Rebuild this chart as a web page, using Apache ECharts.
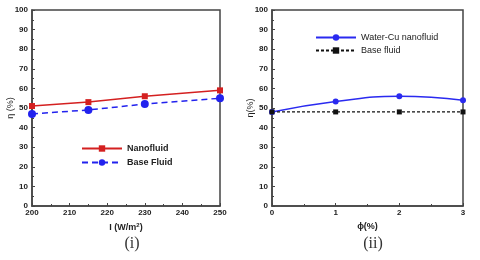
<!DOCTYPE html>
<html><head><meta charset="utf-8">
<script src="https://cdn.jsdelivr.net/npm/echarts@6/dist/echarts.min.js"></script>
<style>html,body{margin:0;padding:0;background:#fff}#c{width:480px;height:260px}</style>
</head><body><div id="c"></div>
<script>
const irradiance = [200, 215, 230, 250];
const nanofluidEff = [51, 53, 56, 59];
const baseFluidEff = [47, 49, 52, 55];
const phi = [0, 1, 2, 3];
const waterCuEff = [48, 53.3, 56, 54];
const baseFluidEff2 = [48, 48, 48, 48];
const yTicks = [0, 10, 20, 30, 40, 50, 60, 70, 80, 90, 100];

const pair = (xs, ys) => xs.map((x, i) => [x, ys[i]]);
const axisCol = '#444';
const lab = {color: '#222', fontFamily: 'Liberation Sans, Arial', fontWeight: 'bold', fontSize: 8};
function yAxis(gi) {
  return {
    type: 'value', gridIndex: gi, min: yTicks[0], max: yTicks[yTicks.length - 1], interval: 10,
    name: gi === 0 ? 'η (%)' : 'η(%)', nameLocation: 'middle', nameGap: 17, nameMoveOverlap: false,
    nameTextStyle: {color: '#222', fontFamily: 'Liberation Sans, Arial', fontSize: 9},
    axisLine: {show: true, lineStyle: {color: axisCol, width: 1.5}},
    axisTick: {show: true, inside: true, length: 3, lineStyle: {color: axisCol}},
    minorTick: {show: true, splitNumber: 2, length: 2, lineStyle: {color: axisCol}},
    splitLine: {show: false},
    axisLabel: Object.assign({margin: 4}, lab)
  };
}
function xAxis(gi, min, max, interval, name) {
  return {
    type: 'value', gridIndex: gi, min: min, max: max, interval: interval,
    name: name, nameLocation: 'middle', nameGap: 13,
    nameTextStyle: {color: '#222', fontFamily: 'Liberation Sans, Arial', fontWeight: 'bold', fontSize: 9,
      rich: {sup: {fontSize: 6, verticalAlign: 'top', fontWeight: 'bold', color: '#222', padding: [0,0,5,0]}}},
    axisLine: {show: true, lineStyle: {color: axisCol, width: 1.5}},
    axisTick: {show: true, inside: true, length: 3, lineStyle: {color: axisCol}},
    minorTick: {show: true, splitNumber: 2, length: 2, lineStyle: {color: axisCol}},
    splitLine: {show: false},
    axisLabel: Object.assign({margin: 3, showMaxLabel: true, showMinLabel: true}, lab)
  };
}
const chart = echarts.init(document.getElementById('c'), null, {renderer: 'canvas'});
chart.setOption({
  animation: false,
  backgroundColor: '#fff',
  grid: [
    {left: 32, right: 260, top: 10, bottom: 54, show: true, borderColor: axisCol, borderWidth: 1.5},
    {left: 272, right: 17, top: 10, bottom: 54, show: true, borderColor: axisCol, borderWidth: 1.5}
  ],
  xAxis: [xAxis(0, 200, 250, 10, 'I (W/m{sup|2})'), xAxis(1, 0, 3, 1, 'ϕ(%)')],
  yAxis: [yAxis(0), yAxis(1)],
  legend: [
    {left: 76, top: 139, orient: 'vertical', itemWidth: 40, itemHeight: 8, itemGap: 5,
     textStyle: {color: '#222', fontFamily: 'Liberation Sans, Arial', fontWeight: 'bold', fontSize: 9},
     data: ['Nanofluid', 'Base Fluid']},
    {left: 310, top: 28, orient: 'vertical', itemWidth: 40, itemHeight: 8, itemGap: 4,
     textStyle: {color: '#222', fontFamily: 'Liberation Sans, Arial', fontSize: 9},
     data: ['Water-Cu nanofluid', 'Base fluid']}
  ],
  title: [
    {text: '(i)', left: 127, top: 231, textAlign: 'center',
     textStyle: {fontFamily: 'Liberation Serif, DejaVu Serif', fontWeight: 'normal', fontSize: 16, color: '#333'}},
    {text: '(ii)', left: 368, top: 231, textAlign: 'center',
     textStyle: {fontFamily: 'Liberation Serif, DejaVu Serif', fontWeight: 'normal', fontSize: 16, color: '#333'}}
  ],
  series: [
    {name: 'Nanofluid', type: 'line', xAxisIndex: 0, yAxisIndex: 0, data: pair(irradiance, nanofluidEff),
     symbol: 'rect', symbolSize: 6, color: '#d42020', lineStyle: {width: 1.5, color: '#d42020'}, itemStyle: {color: '#d42020'}},
    {name: 'Base Fluid', type: 'line', xAxisIndex: 0, yAxisIndex: 0, data: pair(irradiance, baseFluidEff),
     symbol: 'circle', symbolSize: 8, color: '#2222ee', lineStyle: {width: 1.5, type: [6, 4], color: '#2222ee'}, itemStyle: {color: '#2222ee'}},
    {name: 'Water-Cu nanofluid', type: 'line', xAxisIndex: 1, yAxisIndex: 1, data: pair(phi, waterCuEff), smooth: true,
     symbol: 'circle', symbolSize: 6, color: '#2a2af0', lineStyle: {width: 1.5, color: '#2a2af0'}, itemStyle: {color: '#2a2af0'}},
    {name: 'Base fluid', type: 'line', xAxisIndex: 1, yAxisIndex: 1, data: pair(phi, baseFluidEff2),
     symbol: 'rect', symbolSize: 5, color: '#111', lineStyle: {width: 1.2, type: [3, 2], color: '#111'}, itemStyle: {color: '#111'}}
  ]
});
</script></body></html>
